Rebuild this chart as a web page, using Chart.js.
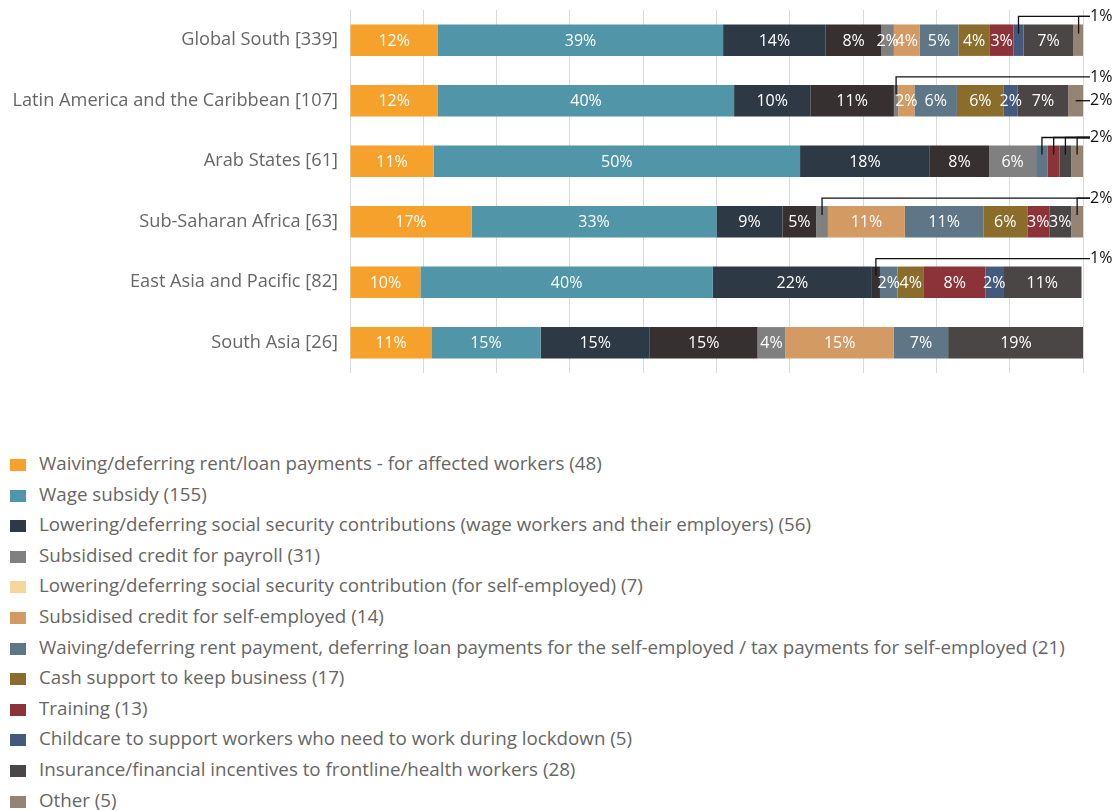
<!DOCTYPE html>
<html>
<head>
<meta charset="utf-8">
<script src="https://cdn.jsdelivr.net/npm/chart.js@4.4.1/dist/chart.umd.min.js"></script>
<style>
  body { margin: 0; background: #fff; font-family: "Open Sans", sans-serif; }
  #wrap { position: relative; width: 1117px; height: 810px; overflow: hidden; }
  #chart { position: absolute; left: 0; top: -5px; }
  #legend { position: absolute; left: 10px; top: 448px; }
  .item { height: 30.6px; line-height: 30.6px; font-size: 18.75px; color: #666; white-space: nowrap; }
  .box { display: inline-block; width: 16px; height: 12px; margin-right: 13px; vertical-align: -1px; }
</style>
</head>
<body>
<div id="wrap">
  <canvas id="chart" width="1117" height="393"></canvas>
  <div id="legend"></div>
</div>
<script>
// regions (bars, top to bottom)
const regions = ['Global South [339]', 'Latin America and the Caribbean [107]', 'Arab States [61]',
    'Sub-Saharan Africa [63]', 'East Asia and Pacific [82]', 'South Asia [26]'];

// share of measures per region (%)
const rentLoanWorkers   = [12.0, 12.0, 11.4, 16.6,  9.6, 11.1];
const wageSubsidy       = [38.9, 40.4, 50.0, 33.4, 39.9, 14.9];
const socSecWage        = [14.0, 10.4, 17.7,  9.0, 21.7, 14.9];
const unlisted          = [ 7.6, 11.4,  8.1,  4.6,  1.1, 14.7];
const creditPayroll     = [ 1.7,  0.6,  6.4,  1.6,  0,    3.8];
const socSecSelf        = [ 0,    0,    0,    0,    0,    0  ];
const creditSelf        = [ 3.5,  2.2,  0,   10.5,  0,   14.8];
const rentSelf          = [ 5.3,  5.8,  1.6, 10.7,  2.4,  7.4];
const cashSupport       = [ 4.3,  6.4,  0,    6.0,  3.6,  0  ];
const training          = [ 3.2,  0,    1.6,  3.0,  8.4,  0  ];
const childcare         = [ 1.4,  1.9,  0,    0,    2.4,  0  ];
const insurance         = [ 6.8,  6.9,  1.6,  3.0, 10.7, 18.5];
const other             = [ 1.4,  2.0,  1.6,  1.6,  0,    0  ];

const seriesNames = [
    'Waiving/deferring rent/loan payments - for affected workers (48)',
    'Wage subsidy (155)',
    'Lowering/deferring social security contributions (wage workers and their employers) (56)',
    '',
    'Subsidised credit for payroll (31)',
    'Lowering/deferring social security contribution (for self-employed) (7)',
    'Subsidised credit for self-employed (14)',
    'Waiving/deferring rent payment, deferring loan payments for the self-employed / tax payments for self-employed (21)',
    'Cash support to keep business (17)',
    'Training (13)',
    'Childcare to support workers who need to work during lockdown (5)',
    'Insurance/financial incentives to frontline/health workers (28)',
    'Other (5)'
];
const seriesValues = [rentLoanWorkers, wageSubsidy, socSecWage, unlisted, creditPayroll, socSecSelf,
    creditSelf, rentSelf, cashSupport, training, childcare, insurance, other];

// small segments labelled outside the bar: [region, series, 'up' | 'side']
const callouts = [
    [0, 10, 'up'], [0, 12, 'up'],
    [1, 4, 'up'], [1, 12, 'side'],
    [2, 7, 'up'], [2, 9, 'up'], [2, 11, 'up'], [2, 12, 'up'],
    [3, 4, 'up'], [3, 12, 'up'],
    [4, 3, 'up']
];

const colors = ['#F5A12B', '#5095A8', '#2D3A46', '#363130', '#808080', '#F5D69B', '#D39B63',
    '#5F7686', '#8A6D2A', '#8B3338', '#44597D', '#4A4645', '#958473'];

function isCallout(row, s) {
    return callouts.some(c => c[0] === row && c[1] === s);
}

// labels inside the segments plus leader lines for the small ones
const labelPlugin = {
    id: 'segLabels',
    afterDatasetsDraw(chart) {
        const ctx = chart.ctx;
        ctx.save();
        ctx.font = '16px "Open Sans"';
        ctx.textAlign = 'center';
        ctx.textBaseline = 'middle';
        ctx.fillStyle = '#fff';
        chart.data.datasets.forEach((ds, s) => {
            chart.getDatasetMeta(s).data.forEach((el, row) => {
                const v = ds.data[row];
                if (v < 1.7 || isCallout(row, s)) return;
                ctx.fillText(Math.round(v) + '%', (el.x + el.base) / 2, el.y + 1);
            });
        });

        const right = chart.chartArea.right;
        ctx.strokeStyle = '#111';
        ctx.lineWidth = 1.3;
        ctx.fillStyle = '#111';
        ctx.font = '16px "Open Sans"';
        ctx.textAlign = 'left';
        const written = {};
        callouts.forEach(([row, s, mode]) => {
            const el = chart.getDatasetMeta(s).data[row];
            const cx = (el.x + el.base) / 2;
            const top = el.y - el.height / 2;
            const txt = Math.round(chart.data.datasets[s].data[row]) + '%';
            const ly = mode === 'up' ? top - 8 : el.y;
            ctx.beginPath();
            if (mode === 'up') {
                ctx.moveTo(cx, top + 9);
                ctx.lineTo(cx, ly);
            } else {
                ctx.moveTo(cx, ly);
            }
            ctx.lineTo(right + 7, ly);
            ctx.stroke();
            const key = row + mode;
            if (!written[key]) {
                ctx.fillText(txt, right + 7, ly);
                written[key] = true;
            }
        });
        ctx.restore();
    }
};

Chart.defaults.font.family = '"Open Sans"';

const chart = new Chart(document.getElementById('chart'), {
    type: 'bar',
    data: {
        labels: regions,
        datasets: seriesValues.map((vals, i) => ({
            label: seriesNames[i],
            data: vals,
            backgroundColor: colors[i],
            borderWidth: 0,
            categoryPercentage: 1,
            barPercentage: 0.52
        }))
    },
    options: {
        indexAxis: 'y',
        responsive: false,
        animation: false,
        layout: { autoPadding: false, padding: { top: 1, right: 34, bottom: 0, left: 0 } },
        plugins: { legend: { display: false }, tooltip: { enabled: false } },
        scales: {
            x: {
                stacked: true,
                min: 0,
                max: 100,
                ticks: { display: false, stepSize: 10 },
                grid: { color: '#D9D9D9', drawTicks: false },
                border: { display: false },
                afterFit(scale) { scale.height = 0; }
            },
            y: {
                stacked: true,
                grid: { display: false },
                border: { display: false },
                ticks: { color: '#666', font: { size: 18.2 }, padding: 4 },
                afterFit(scale) { scale.width = 350; }
            }
        }
    },
    plugins: [labelPlugin]
});

// legend as a single column, skipping the unnamed series
const legend = document.getElementById('legend');
seriesNames.forEach((name, i) => {
    if (!name) return;
    const row = document.createElement('div');
    row.className = 'item';
    row.innerHTML = '<span class="box" style="background:' + colors[i] + '"></span>' + name;
    legend.appendChild(row);
});
</script>
</body>
</html>
